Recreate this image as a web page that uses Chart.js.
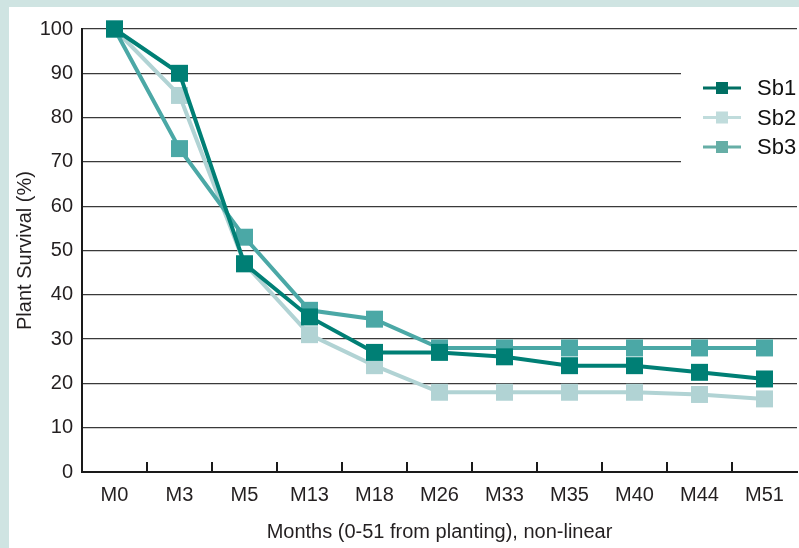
<!DOCTYPE html>
<html>
<head>
<meta charset="utf-8">
<script src="https://cdn.jsdelivr.net/npm/chart.js@4/dist/chart.umd.min.js"></script>
<style>
  html, body { margin: 0; padding: 0; background: #cfe4e2; }
  #panel { position: absolute; left: 9px; top: 7px; width: 790px; height: 541px; background: #fff; }
  #wrap { position: absolute; left: 0; top: 0; width: 799px; height: 548px; }
</style>
</head>
<body>
<div id="panel"></div>
<div id="wrap"><canvas id="chart"></canvas></div>
<script>
// ---- data ----
const months = ["M0", "M3", "M5", "M13", "M18", "M26", "M33", "M35", "M40", "M44", "M51"];
const seriesNames = ["Sb1", "Sb2", "Sb3"];
const sb1 = [100, 90, 47, 35, 27, 27, 26, 24, 24, 22.5, 21];
const sb2 = [100, 85, 47, 31, 24, 18, 18, 18, 18, 17.5, 16.5];
const sb3 = [100, 73, 53, 36.5, 34.5, 28, 28, 28, 28, 28, 28];
const yTicks = [0, 10, 20, 30, 40, 50, 60, 70, 80, 90, 100];

const lineColors = ["#007f75", "#b1d3d4", "#4ba8a6"];
const legendColors = ["#006f63", "#c0dcdc", "#66aea6"];
const FONT = "'Liberation Sans', Arial, sans-serif";

// ======================================
// legend + short gridlines
// ======================================
const legendPlugin = {
    id: "sideLegend",
    beforeDatasetsDraw(chart) {
        // gridlines 70-90 stop short to leave room for the legend
        const {ctx, scales: {y}, chartArea} = chart;
        const top = y.getPixelForValue(100) + 1.5;
        const bottom = y.getPixelForValue(60) - 1.5;
        ctx.save();
        ctx.fillStyle = "#fff";
        ctx.fillRect(681, top, chartArea.right - 681 + 3, bottom - top);
        ctx.restore();
    },
    afterDraw(chart) {
        const ctx = chart.ctx;
        ctx.save();
        seriesNames.forEach((name, i) => {
            const yy = 88 + i * 29.5;
            ctx.strokeStyle = legendColors[i];
            ctx.lineWidth = 3;
            ctx.beginPath();
            ctx.moveTo(703, yy);
            ctx.lineTo(741, yy);
            ctx.stroke();
            ctx.fillStyle = legendColors[i];
            ctx.fillRect(716, yy - 6, 12, 12);
            ctx.fillStyle = "#111";
            ctx.font = "22px " + FONT;
            ctx.textBaseline = "middle";
            ctx.fillText(name, 757, yy + 1);
        });
        ctx.restore();
    }
};

const seriesData = [sb1, sb2, sb3];
const drawOrder = [0, 2, 1];

new Chart(document.getElementById("chart"), {
    type: "line",
    data: {
        labels: months,
        datasets: seriesNames.map((name, i) => ({
            label: name,
            data: seriesData[i],
            borderColor: lineColors[i],
            backgroundColor: lineColors[i],
            borderWidth: 4,
            pointStyle: "rect",
            pointRadius: 12,
            pointBorderWidth: 0,
            tension: 0,
            clip: false,
            order: drawOrder[i]
        }))
    },
    options: {
        responsive: true,
        maintainAspectRatio: false,
        animation: false,
        events: [],
        layout: {autoPadding: false, padding: {left: 0, top: 29, right: 2, bottom: 0}},
        plugins: {
            legend: {display: false},
            tooltip: {enabled: false}
        },
        scales: {
            x: {
                offset: true,
                grid: {
                    offset: true,
                    drawOnChartArea: false,
                    drawTicks: true,
                    tickLength: -10,
                    lineWidth: 2,
                    color: ctx => (ctx.type === "tick" && ctx.index > 0) ? "#1a1a1a" : "rgba(0,0,0,0)"
                },
                border: {color: "#1a1a1a", width: 2},
                ticks: {
                    color: "#231f20",
                    font: {family: FONT, size: 20},
                    padding: 21,
                    maxRotation: 0
                },
                title: {
                    display: true,
                    text: "Months (0-51 from planting), non-linear",
                    color: "#231f20",
                    font: {family: FONT, size: 20},
                    padding: {top: 0, bottom: 4}
                },
                afterFit: scale => {
                    scale.height = 76;
                    scale.paddingLeft = 0;
                    scale.paddingRight = 0;
                }
            },
            y: {
                min: 0,
                max: 100,
                afterBuildTicks: scale => { scale.ticks = yTicks.map(v => ({value: v})); },
                grid: {
                    drawTicks: false,
                    color: "#3a3a3a",
                    lineWidth: 1.2
                },
                border: {color: "#1a1a1a", width: 2},
                ticks: {
                    color: "#231f20",
                    font: {family: FONT, size: 20},
                    padding: 9
                },
                title: {
                    display: true,
                    text: "Plant Survival (%)",
                    color: "#231f20",
                    font: {family: FONT, size: 20},
                    padding: {top: 13, bottom: 0}
                },
                afterFit: scale => { scale.width = 82; }
            }
        }
    },
    plugins: [legendPlugin]
});
</script>
</body>
</html>
